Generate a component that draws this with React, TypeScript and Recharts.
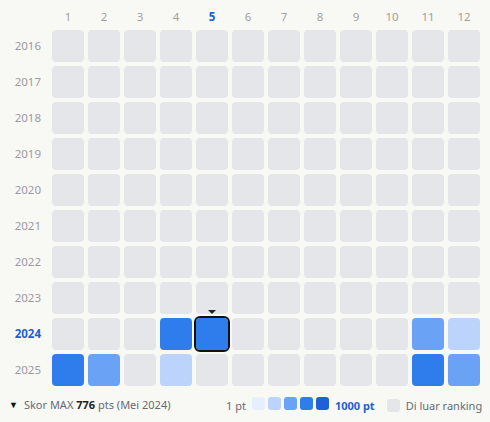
import { ScatterChart, Scatter, XAxis, YAxis } from "recharts";

const months = [1, 2, 3, 4, 5, 6, 7, 8, 9, 10, 11, 12];
const years = [2016, 2017, 2018, 2019, 2020, 2021, 2022, 2023, 2024, 2025];

// points per month, null = outside the ranking
const scores2016 = [null, null, null, null, null, null, null, null, null, null, null, null];
const scores2017 = [null, null, null, null, null, null, null, null, null, null, null, null];
const scores2018 = [null, null, null, null, null, null, null, null, null, null, null, null];
const scores2019 = [null, null, null, null, null, null, null, null, null, null, null, null];
const scores2020 = [null, null, null, null, null, null, null, null, null, null, null, null];
const scores2021 = [null, null, null, null, null, null, null, null, null, null, null, null];
const scores2022 = [null, null, null, null, null, null, null, null, null, null, null, null];
const scores2023 = [null, null, null, null, null, null, null, null, null, null, null, null];
const scores2024 = [null, null, null, 700, 776, null, null, null, null, null, 480, 300];
const scores2025 = [720, 510, null, 260, null, null, null, null, null, null, 690, 450];

const allScores = [
  scores2016, scores2017, scores2018, scores2019, scores2020,
  scores2021, scores2022, scores2023, scores2024, scores2025,
];

const maxYear = 2024;
const maxMonth = 5;

const BG = "#f8f8f4";
const EMPTY = "#e5e6ea";
const SCALE = ["#e6efff", "#bcd4fb", "#6aa3f5", "#2f7ced", "#1f60d9"];
const FONT = "'Noto Sans', sans-serif";

function colorFor(v: number | null) {
  if (v == null) return EMPTY;
  const idx = Math.min(4, Math.floor(v / 200));
  return SCALE[idx];
}

const cells = years.flatMap((y, yi) =>
  months.map((m, mi) => ({ month: m, year: y, value: allScores[yi][mi] }))
);

function Cell(props: any) {
  const { cx, cy, payload } = props;
  const sel = payload.year === maxYear && payload.month === maxMonth;
  return (
    <g>
      <rect x={cx - 16} y={cy - 16} width={32} height={32} rx={4} fill={colorFor(payload.value)} />
      {sel && (
        <>
          <rect x={cx - 17} y={cy - 17} width={34} height={34} rx={5} fill="none" stroke="#111" strokeWidth={2} />
          <path d={`M${cx - 4},${cy - 24} L${cx + 4},${cy - 24} L${cx},${cy - 20} Z`} fill="#222" />
        </>
      )}
    </g>
  );
}

function MonthTick(props: any) {
  const { x, y, payload } = props;
  const hl = payload.value === maxMonth;
  return (
    <text x={x} y={y + 1} textAnchor="middle" fontFamily={FONT} fontSize={11.5}
      fill={hl ? "#1f5fd6" : "#a69e9e"} fontWeight={hl ? 700 : 400}>
      {payload.value}
    </text>
  );
}

function YearTick(props: any) {
  const { x, y, payload } = props;
  const hl = payload.value === maxYear;
  return (
    <text x={x - 1} y={y + 4} textAnchor="end" fontFamily={FONT} fontSize={11.5}
      fill={hl ? "#1f5fd6" : "#9c9aa4"} fontWeight={hl ? 700 : 400}>
      {payload.value}
    </text>
  );
}

export default function App() {
  const sw = (c: string) => (
    <span style={{ display: "inline-block", width: 13, height: 13, borderRadius: 3, background: c, marginRight: 3 }} />
  );
  return (
    <div style={{ position: "fixed", left: 0, top: 0, width: 490, height: 422, background: BG, fontFamily: FONT }}>
      <ScatterChart width={490} height={422} margin={{ top: 0, right: 8, bottom: 34, left: 0 }}>
        <XAxis type="number" dataKey="month" orientation="top" domain={[0.5, 12.5]} ticks={months}
          axisLine={false} tickLine={false} tick={<MonthTick />} height={28} />
        <YAxis type="number" dataKey="year" domain={[2015.5, 2025.5]} ticks={years} reversed
          axisLine={false} tickLine={false} tick={<YearTick />} width={50} />
        <Scatter data={cells} shape={<Cell />} isAnimationActive={false} />
      </ScatterChart>
      <div style={{ position: "absolute", left: 9, top: 397, fontSize: 11, color: "#666a78", display: "flex", alignItems: "center", whiteSpace: "nowrap" }}>
        <span style={{ fontSize: 9, color: "#111", marginRight: 6 }}>▼</span>
        Skor MAX&nbsp;<b style={{ color: "#222" }}>776</b>&nbsp;pts (Mei 2024)
      </div>
      <div style={{ position: "absolute", left: 226, top: 397, fontSize: 11, color: "#666a78", display: "flex", alignItems: "center", whiteSpace: "nowrap" }}>
        <span style={{ marginRight: 6 }}>1 pt</span>
        {SCALE.map((c) => <span key={c}>{sw(c)}</span>)}
        <b style={{ color: "#1f5fd6", marginLeft: 3, marginRight: 12 }}>1000 pt</b>
        {sw(EMPTY)}
        <span style={{ marginLeft: 3 }}>Di luar ranking</span>
      </div>
    </div>
  );
}
